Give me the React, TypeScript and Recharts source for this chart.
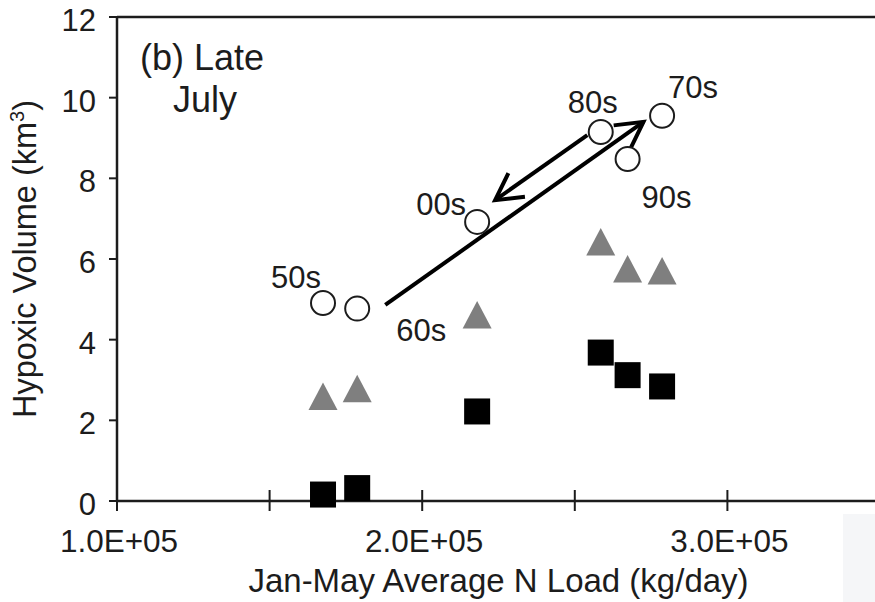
import { ScatterChart, Scatter, XAxis, YAxis, ReferenceLine, Label } from "recharts";

const INK = "#1c1c1c";
const GRAY = "#7f7f7f";
const FONT = "'Liberation Sans', Arial, sans-serif";

const decades = ["50s", "60s", "00s", "80s", "90s", "70s"];
const nLoad = [167500, 178700, 218000, 258500, 267300, 278600];
const volumeOpen = [4.91, 4.77, 6.92, 9.15, 8.48, 9.55];
const volumeGray = [2.59, 2.78, 4.61, 6.42, 5.75, 5.7];
const volumeBlack = [0.16, 0.32, 2.22, 3.68, 3.12, 2.84];

const xTicks = [100000, 150000, 200000, 250000, 300000, 350000];
const yTicks = [0, 2, 4, 6, 8, 10, 12];

// hand-drawn arrows, in data units
const trendArrow = [{ x: 187900, y: 4.86 }, { x: 272500, y: 9.4 }];
const returnArrow = [{ x: 254100, y: 9.07 }, { x: 223900, y: 7.46 }];

// where each decade tag sits relative to its circle (px)
const tagOffset: Record<string, [number, number]> = {
  "50s": [-27, -25],
  "60s": [64, 22],
  "00s": [-36, -17],
  "80s": [-8, -29],
  "90s": [39, 39],
  "70s": [31, -28],
};

const series = (ys: number[]) => decades.map((d, i) => ({ decade: d, x: nLoad[i], y: ys[i] }));

const sci = (v: number) => {
  const [m, e] = v.toExponential(1).split("e");
  const n = Number(e);
  return `${m}E${n < 0 ? "-" : "+"}${String(Math.abs(n)).padStart(2, "0")}`;
};

function XTick({ x, y, payload }: any) {
  const v = payload.value;
  return (
    <g>
      <line x1={x} x2={x} y1={y - 11} y2={y + 10} stroke={INK} strokeWidth={2} />
      {v % 100000 === 0 && (
        <text x={x + 2} y={y + 51} textAnchor="middle" fontSize={31.5} fill={INK} fontFamily={FONT}>
          {sci(v)}
        </text>
      )}
    </g>
  );
}

function YTick({ x, y, payload }: any) {
  return (
    <text x={x} y={y + 14} textAnchor="end" fontSize={31} fill={INK} fontFamily={FONT}>
      {payload.value}
    </text>
  );
}

const OpenCircle = (p: any) => {
  const [dx, dy] = tagOffset[p.payload.decade];
  return (
    <g>
      <circle cx={p.cx} cy={p.cy} r={12} fill="#fff" stroke={INK} strokeWidth={2} />
      <text x={p.cx + dx} y={p.cy + dy + 10} textAnchor="middle" fontSize={31} fill={INK} fontFamily={FONT}>
        {p.payload.decade}
      </text>
    </g>
  );
};

const Triangle = (p: any) => (
  <polygon
    points={`${p.cx},${p.cy - 14} ${p.cx - 14.5},${p.cy + 13.5} ${p.cx + 14.5},${p.cy + 13.5}`}
    fill={GRAY}
  />
);

const Square = (p: any) => <rect x={p.cx - 13} y={p.cy - 13} width={26} height={26} fill="#000" />;

const arrowShape = (p: any) => {
  const { x1, y1, x2, y2 } = p;
  const back = Math.atan2(y1 - y2, x1 - x2);
  const len = 30;
  const spread = 0.5;
  const w1x = x2 + len * Math.cos(back + spread);
  const w1y = y2 + len * Math.sin(back + spread);
  const w2x = x2 + len * Math.cos(back - spread);
  const w2y = y2 + len * Math.sin(back - spread);
  return (
    <g>
      <line x1={x1} y1={y1} x2={x2} y2={y2} stroke="#000" strokeWidth={4} />
      <polyline
        points={`${w1x},${w1y} ${x2},${y2} ${w2x},${w2y}`}
        fill="none"
        stroke="#000"
        strokeWidth={4}
        strokeLinejoin="miter"
      />
    </g>
  );
};

export default function App() {
  return (
    <div
      style={{
        position: "fixed",
        left: 0,
        top: 0,
        width: 875,
        height: 602,
        overflow: "hidden",
        background: "#fff",
        fontFamily: FONT,
      }}
    >
      <div style={{ position: "absolute", left: 843, top: 514, width: 32, height: 88, background: "#f5f6f8" }} />
      <div style={{ position: "absolute", left: 0, top: 0 }}>
        <ScatterChart width={880} height={602} margin={{ top: 17, right: 0, bottom: 0, left: 0 }}>
          <XAxis
            type="number"
            dataKey="x"
            domain={[100000, 350000]}
            ticks={xTicks}
            interval={0}
            height={101}
            axisLine={{ stroke: INK, strokeWidth: 2.5 }}
            tickLine={false}
            tickSize={0}
            tickMargin={0}
            tick={XTick}
          >
            <Label
              content={(p: any) => {
                const vb = p.viewBox;
                return (
                  <text x={vb.x + vb.width / 2} y={vb.y + vb.height - 10} textAnchor="middle" fontSize={33} fill={INK} fontFamily={FONT}>
                    Jan-May Average N Load (kg/day)
                  </text>
                );
              }}
            />
          </XAxis>
          <YAxis
            type="number"
            dataKey="y"
            domain={[0, 12]}
            ticks={yTicks}
            interval={0}
            width={117}
            axisLine={{ stroke: INK, strokeWidth: 2.5 }}
            tickLine={{ stroke: INK, strokeWidth: 2 }}
            tickSize={8}
            tickMargin={13}
            tick={YTick}
          >
            <Label
              content={(p: any) => {
                const vb = p.viewBox;
                const cx = vb.x + 36;
                const cy = vb.y + vb.height / 2;
                return (
                  <text x={cx} y={cy} transform={`rotate(-90, ${cx}, ${cy})`} textAnchor="middle" fontSize={32.5} fill={INK} fontFamily={FONT}>
                    Hypoxic Volume (km
                    <tspan dy={-12} fontSize={20}>3</tspan>
                    <tspan dy={12}>)</tspan>
                  </text>
                );
              }}
            />
          </YAxis>
          <ReferenceLine y={12} stroke={INK} strokeWidth={2.5} />
          <Scatter data={series(volumeOpen)} shape={OpenCircle} isAnimationActive={false} />
          <Scatter data={series(volumeGray)} shape={Triangle} isAnimationActive={false} />
          <Scatter data={series(volumeBlack)} shape={Square} isAnimationActive={false} />
          <ReferenceLine segment={trendArrow} shape={arrowShape} />
          <ReferenceLine segment={returnArrow} shape={arrowShape} />
        </ScatterChart>
      </div>
      <svg width={875} height={602} style={{ position: "absolute", left: 0, top: 0, pointerEvents: "none" }}>
        <text x={140} y={70} fontSize={36} fill={INK} fontFamily={FONT}>
          (b) Late
        </text>
        <text x={173} y={112} fontSize={36} fill={INK} fontFamily={FONT}>
          July
        </text>
      </svg>
    </div>
  );
}
